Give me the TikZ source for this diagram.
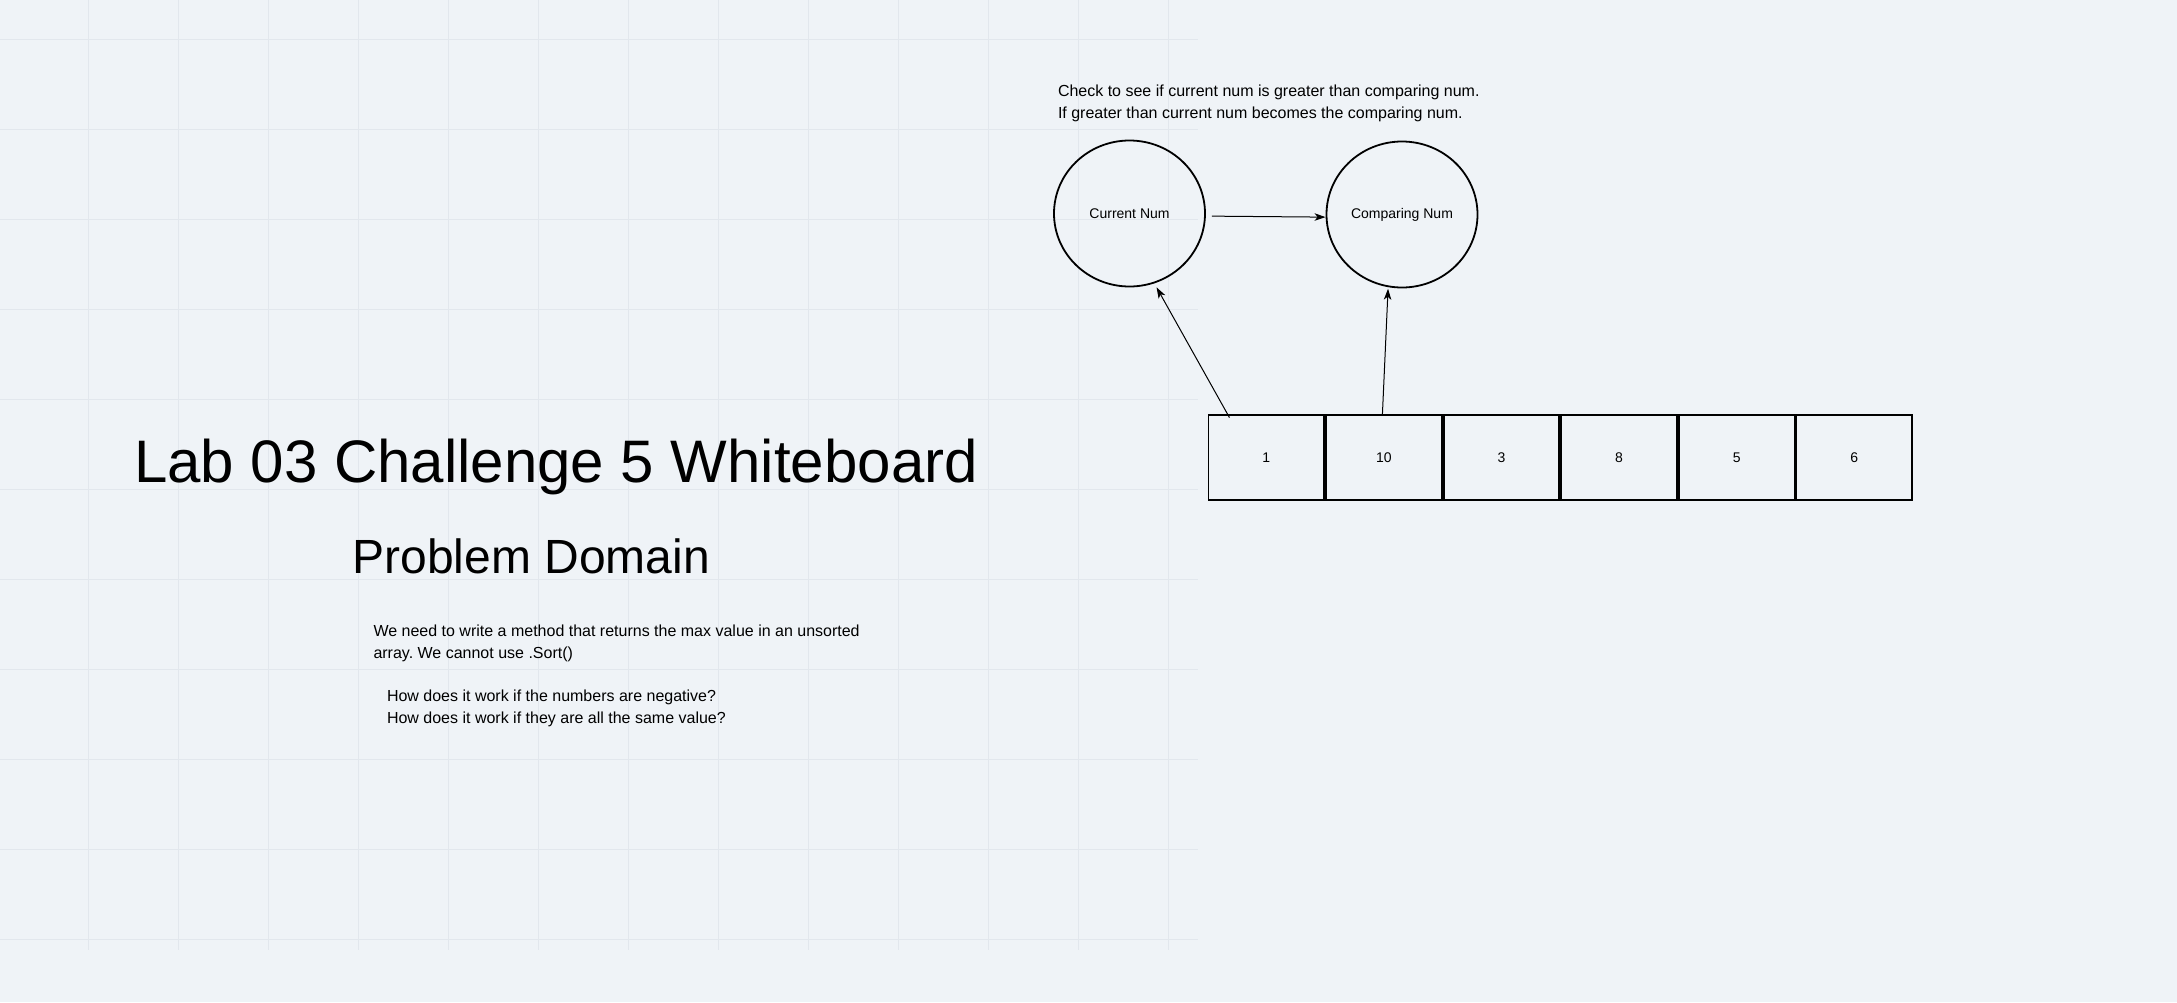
\documentclass[tikz,border=0pt]{standalone}
\usepackage{fontspec}
\setmainfont{Liberation Sans}
\usetikzlibrary{arrows.meta,shapes.geometric}

\definecolor{boardbg}{RGB}{239,243,247}
\definecolor{gridline}{RGB}{226,231,237}
\frenchspacing

\begin{document}
\begin{tikzpicture}[
    x=1pt, y=-1pt,
    every node/.style={inner sep=0pt, outer sep=0pt},
    bubble/.style={
        draw,
        ellipse,
        line width=1.8pt,
        minimum width=151pt,
        minimum height=146pt,
        font=\fontsize{14}{17}\selectfont
    },
    cell/.style={
        draw,
        line width=1.9pt,
        minimum width=115.7pt,
        minimum height=85.5pt,
        font=\fontsize{14}{17}\selectfont
    },
    note/.style={align=left, anchor=base west, font=\fontsize{16}{22}\selectfont},
    link/.style={-{Stealth[length=11pt,width=7.5pt,inset=3pt]}, line width=1pt}
]

% board and grid
\fill[boardbg] (0,0) rectangle (2177,1002);
\useasboundingbox (0,0) rectangle (2177,1002);
\foreach \gx in {88,178,...,1168}
    \draw[gridline, line width=0.8pt] (\gx,0) -- (\gx,950);
\foreach \gy in {39.5,129.5,...,939.5}
    \draw[gridline, line width=0.8pt] (0,\gy) -- (1198,\gy);

% titles
\node[anchor=base west, font=\fontsize{60}{72}\selectfont] (title) at (134,482.5) {Lab 03 Challenge 5 Whiteboard};
\node[anchor=base west, font=\fontsize{48}{56}\selectfont] (domain) at (352.5,573.5) {Problem Domain};

% base anchor sits on the last line
\node[note] (problem) at (373.5,658) {We need to write a method that returns the max value in an unsorted\\array. We cannot use .Sort()};
\node[note] (questions) at (387,723.5) {How does it work if the numbers are negative?\\How does it work if they are all the same value?};

\node[note] (check) at (1058,118) {Check to see if current num is greater than comparing num.\\If greater than current num becomes the comparing num.};

% current and comparing
\node[bubble] (cur) at (1129.5,213.5) {Current Num};
\node[bubble] (cmp) at (1402,214.5) {Comparing Num};

% array
\foreach \val [count=\i] in {1,10,3,8,5,6}
    \node[cell] (c\i) at ({1266.3+117.6*(\i-1)},457.3) {\val};

\draw[link] ([xshift=7pt]cur.-2) -- ([xshift=-1pt]cmp.182);
\draw[link] ([xshift=21pt,yshift=-3pt]c1.north west) -- ([shift={(2pt,-5pt)}]cur.-70);
\draw[link] ([xshift=-1.5pt]c2.north) -- ([yshift=-2.5pt]cmp.-101);

\end{tikzpicture}
\end{document}
